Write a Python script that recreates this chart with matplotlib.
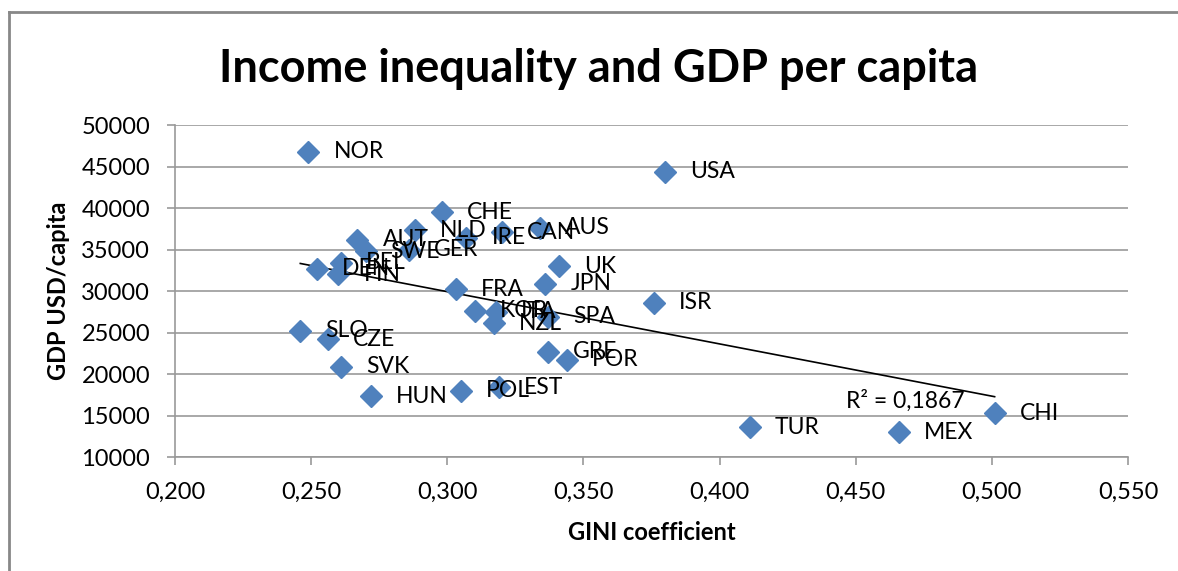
import numpy as np
import matplotlib.pyplot as plt
from matplotlib.lines import Line2D

plt.rcParams['font.family'] = ['Lato', 'DejaVu Sans']

# GINI coefficient vs GDP per capita (USD)
countries = ["NOR", "USA", "CHE", "NLD", "AUT", "SWE", "GER", "IRE", "CAN", "AUS",
             "DEN", "BEL", "FIN", "UK", "JPN", "FRA", "ISR", "KOR", "ITA", "NZL",
             "SPA", "SLO", "CZE", "GRE", "POR", "SVK", "HUN", "POL", "EST", "CHI",
             "TUR", "MEX"]
gini = [0.249, 0.380, 0.298, 0.288, 0.267, 0.270, 0.286, 0.307, 0.320, 0.334,
        0.252, 0.261, 0.260, 0.341, 0.336, 0.303, 0.376, 0.310, 0.318, 0.317,
        0.337, 0.246, 0.256, 0.337, 0.344, 0.261, 0.272, 0.305, 0.319, 0.501,
        0.411, 0.466]
gdp = [46800, 44400, 39500, 37300, 36200, 34800, 35000, 36400, 37100, 37600,
       32700, 33400, 32000, 33000, 30900, 30200, 28600, 27600, 27500, 26100,
       26900, 25200, 24200, 22700, 21700, 20900, 17300, 18000, 18400, 15300,
       13600, 13000]
r2_text = "R² = 0,1867"

x = np.array(gini)
y = np.array(gdp)

fig = plt.figure(figsize=(11.78, 5.71), dpi=100)
ax = fig.add_axes([0.1486, 0.1996, 0.8090, 0.5814])

ax.plot(x, y, linestyle='none', marker='D', ms=11, color='#4F81BD', zorder=3)

for name, xi, yi in zip(countries, x, y):
    ax.annotate(name, (xi, yi), xytext=(18, 0), textcoords='offset points',
                ha='left', va='center', fontsize=16.5, color='black', zorder=4)

# linear trendline over the data range
k, b = np.polyfit(x, y, 1)
xs = np.array([x.min(), x.max()])
ax.plot(xs, k * xs + b, color='black', lw=1.2, zorder=2)
ax.annotate(r2_text, (x.max(), k * x.max() + b), xytext=(-107, -3),
            textcoords='offset points', ha='left', va='center', fontsize=16.5)

ax.set_xlim(0.2, 0.55)
ax.set_ylim(10000, 50000)
ax.set_xticks(np.arange(0.2, 0.551, 0.05))
ax.set_xticklabels([f"{v:.3f}".replace('.', ',') for v in np.arange(0.2, 0.551, 0.05)])
ax.set_yticks(np.arange(10000, 50001, 5000))
ax.yaxis.grid(True, color='#999999', lw=1.2)
ax.set_axisbelow(True)
for s in ['top', 'right']:
    ax.spines[s].set_visible(False)
for s in ['left', 'bottom']:
    ax.spines[s].set_color('#999999')
    ax.spines[s].set_linewidth(1.2)
ax.tick_params(axis='both', colors='#999999', length=6, width=1.2, labelsize=17,
               labelcolor='black')
ax.tick_params(axis='y', pad=12)
ax.tick_params(axis='x', pad=12)

ax.set_xlabel("GINI coefficient", fontsize=17, fontweight='bold', labelpad=13)
ax.set_ylabel("GDP USD/capita", fontsize=17, fontweight='bold', labelpad=8)
fig.text(0.508, 0.88, "Income inequality and GDP per capita", ha='center',
         va='center', fontsize=32.5, fontweight='bold')

# outer chart frame (only top and left edges visible)
fig.add_artist(Line2D([9 / 1178, 1.0], [1 - 12 / 571, 1 - 12 / 571],
                      color='#888888', lw=2))
fig.add_artist(Line2D([9 / 1178, 9 / 1178], [0, 1 - 12 / 571],
                      color='#888888', lw=2))

fig.savefig("out.png", dpi=100)
